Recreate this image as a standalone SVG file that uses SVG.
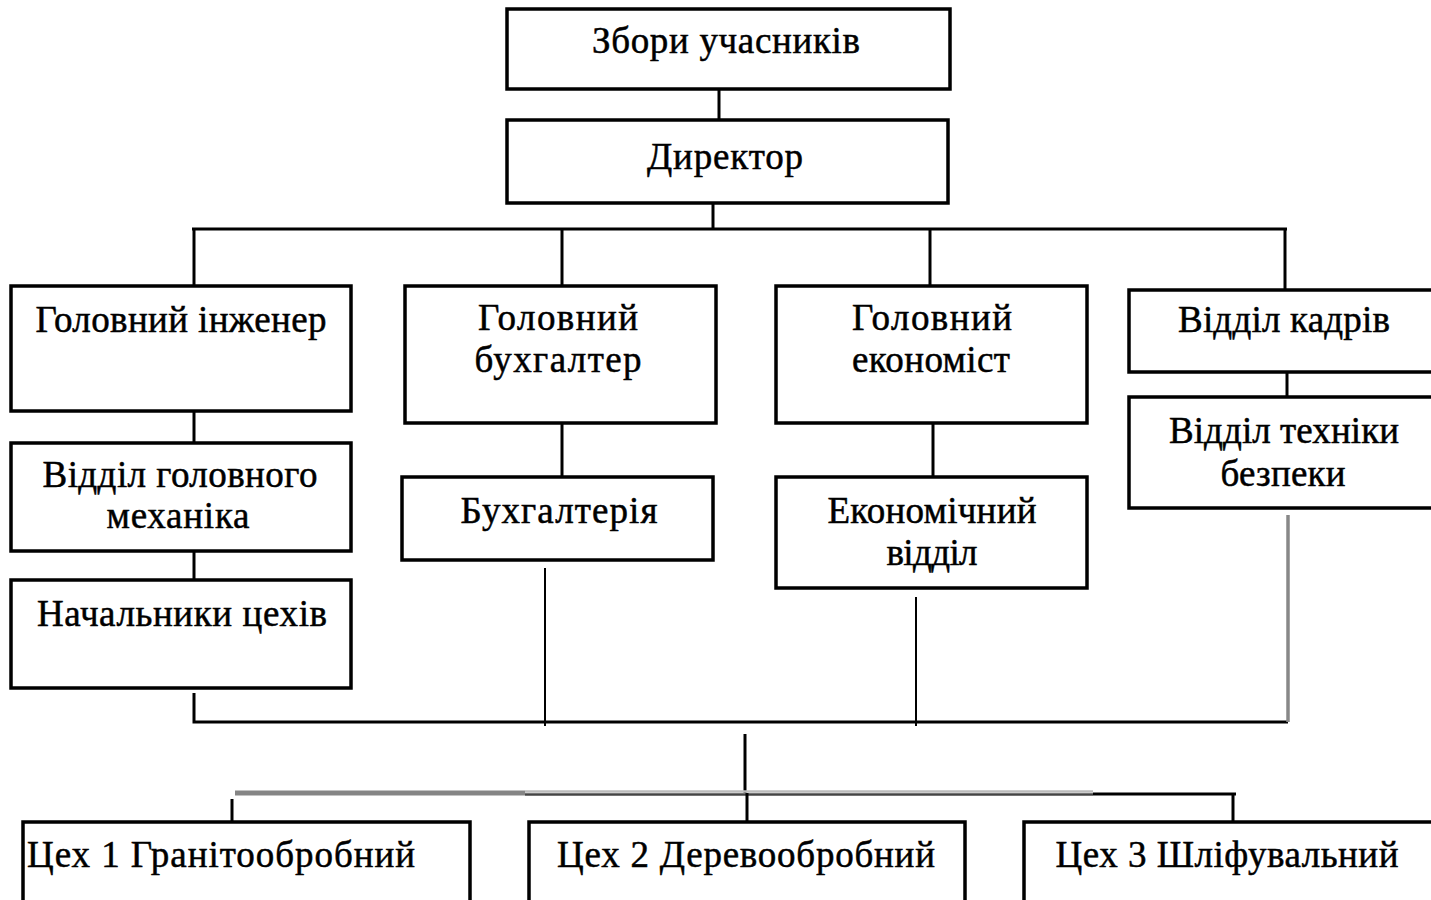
<svg xmlns="http://www.w3.org/2000/svg" width="1431" height="900" viewBox="0 0 1431 900">
<style>
.box{fill:#fff;stroke:#000;stroke-width:3.5}
.t{font-family:"Liberation Serif","Times New Roman",serif;font-size:37px;fill:#000;stroke:#000;stroke-width:0.5;text-anchor:middle}
.l{text-anchor:start}
.c{stroke:#000;stroke-width:3;fill:none}
.c2{stroke:#000;stroke-width:2;fill:none}
</style>
<rect width="1431" height="900" fill="#fff"/>
<g id="connectors">
<line class="c" x1="719" y1="89" x2="719" y2="120"/>
<line class="c" x1="713" y1="203" x2="713" y2="229"/>
<line class="c" x1="192" y1="229" x2="1287" y2="229"/>
<line class="c" x1="194" y1="229" x2="194" y2="286"/>
<line class="c" x1="562" y1="229" x2="562" y2="286"/>
<line class="c" x1="930" y1="229" x2="930" y2="286"/>
<line class="c" x1="1285" y1="229" x2="1285" y2="290"/>
<line class="c" x1="1287" y1="372" x2="1287" y2="397"/>
<line class="c" x1="194" y1="411" x2="194" y2="443"/>
<line class="c" x1="194" y1="551" x2="194" y2="580"/>
<line class="c" x1="562" y1="423" x2="562" y2="477"/>
<line class="c" x1="933" y1="423" x2="933" y2="477"/>
<polyline class="c" points="194,693 194,722 1288,722"/>
<line class="c2" x1="545" y1="568" x2="545" y2="726"/>
<line class="c2" x1="916" y1="597" x2="916" y2="726"/>
<line stroke="#888" stroke-width="3.5" x1="1288" y1="515" x2="1288" y2="722"/>
<line class="c" x1="745" y1="734" x2="745" y2="793"/>
<line stroke="#858585" stroke-width="5" x1="235" y1="793" x2="525" y2="793"/>
<line stroke="#bbb" stroke-width="2.5" x1="525" y1="791.5" x2="1093" y2="791.5"/>
<line stroke="#444" stroke-width="2.5" x1="525" y1="794.5" x2="1093" y2="794.5"/>
<line class="c" x1="1093" y1="794" x2="1236" y2="794"/>
<line class="c" x1="232" y1="799" x2="232" y2="829"/>
<line class="c" x1="747" y1="793" x2="747" y2="822"/>
<line class="c" x1="1233" y1="794" x2="1233" y2="822"/>
</g>
<g id="n-zbory"><rect class="box" x="507" y="9" width="443" height="80"/><text class="t" x="726" y="53" textLength="268" lengthAdjust="spacing">Збори учасників</text></g>
<g id="n-dyrektor"><rect class="box" x="507" y="120" width="441" height="83"/><text class="t" x="725" y="169" textLength="156" lengthAdjust="spacing">Директор</text></g>
<g id="n-inzhener"><rect class="box" x="11" y="286" width="340" height="125"/><text class="t" x="181" y="332" textLength="291" lengthAdjust="spacing">Головний інженер</text></g>
<g id="n-mekhanik"><rect class="box" x="11" y="443" width="340" height="108"/><text class="t" x="180" y="487" textLength="275" lengthAdjust="spacing">Відділ головного</text><text class="t" x="178" y="528" textLength="143" lengthAdjust="spacing">механіка</text></g>
<g id="n-nachalnyky"><rect class="box" x="11" y="580" width="340" height="108"/><text class="t" x="182" y="626" textLength="290" lengthAdjust="spacing">Начальники цехів</text></g>
<g id="n-bukhgalter"><rect class="box" x="405" y="286" width="311" height="137"/><text class="t" x="558" y="330" textLength="160" lengthAdjust="spacing">Головний</text><text class="t" x="558" y="372" textLength="167" lengthAdjust="spacing">бухгалтер</text></g>
<g id="n-bukhgalteriya"><rect class="box" x="402" y="477" width="311" height="83"/><text class="t" x="559" y="523" textLength="197" lengthAdjust="spacing">Бухгалтерія</text></g>
<g id="n-ekonomist"><rect class="box" x="776" y="286" width="311" height="137"/><text class="t" x="932" y="330" textLength="160" lengthAdjust="spacing">Головний</text><text class="t" x="931" y="372" textLength="158" lengthAdjust="spacing">економіст</text></g>
<g id="n-ekonomviddil"><rect class="box" x="776" y="477" width="311" height="111"/><text class="t" x="932" y="523" textLength="209" lengthAdjust="spacing">Економічний</text><text class="t" x="932" y="565" textLength="91" lengthAdjust="spacing">відділ</text></g>
<g id="n-kadry"><rect class="box" x="1129" y="290" width="320" height="82"/><text class="t" x="1284" y="332" textLength="212" lengthAdjust="spacing">Відділ кадрів</text></g>
<g id="n-tekhnika"><rect class="box" x="1129" y="397" width="320" height="111"/><text class="t" x="1284" y="443" textLength="230" lengthAdjust="spacing">Відділ техніки</text><text class="t" x="1283" y="486" textLength="125" lengthAdjust="spacing">безпеки</text></g>
<g id="n-tsekh1"><rect class="box" x="23" y="822" width="447" height="100"/><text class="t l" x="27" y="867" textLength="388" lengthAdjust="spacing">Цех 1 Гранітообробний</text></g>
<g id="n-tsekh2"><rect class="box" x="529" y="822" width="436" height="100"/><text class="t" x="746" y="867" textLength="378" lengthAdjust="spacing">Цех 2 Деревообробний</text></g>
<g id="n-tsekh3"><rect class="box" x="1024" y="822" width="430" height="100"/><text class="t" x="1227" y="867" textLength="343" lengthAdjust="spacing">Цех 3 Шліфувальний</text></g>
</svg>
